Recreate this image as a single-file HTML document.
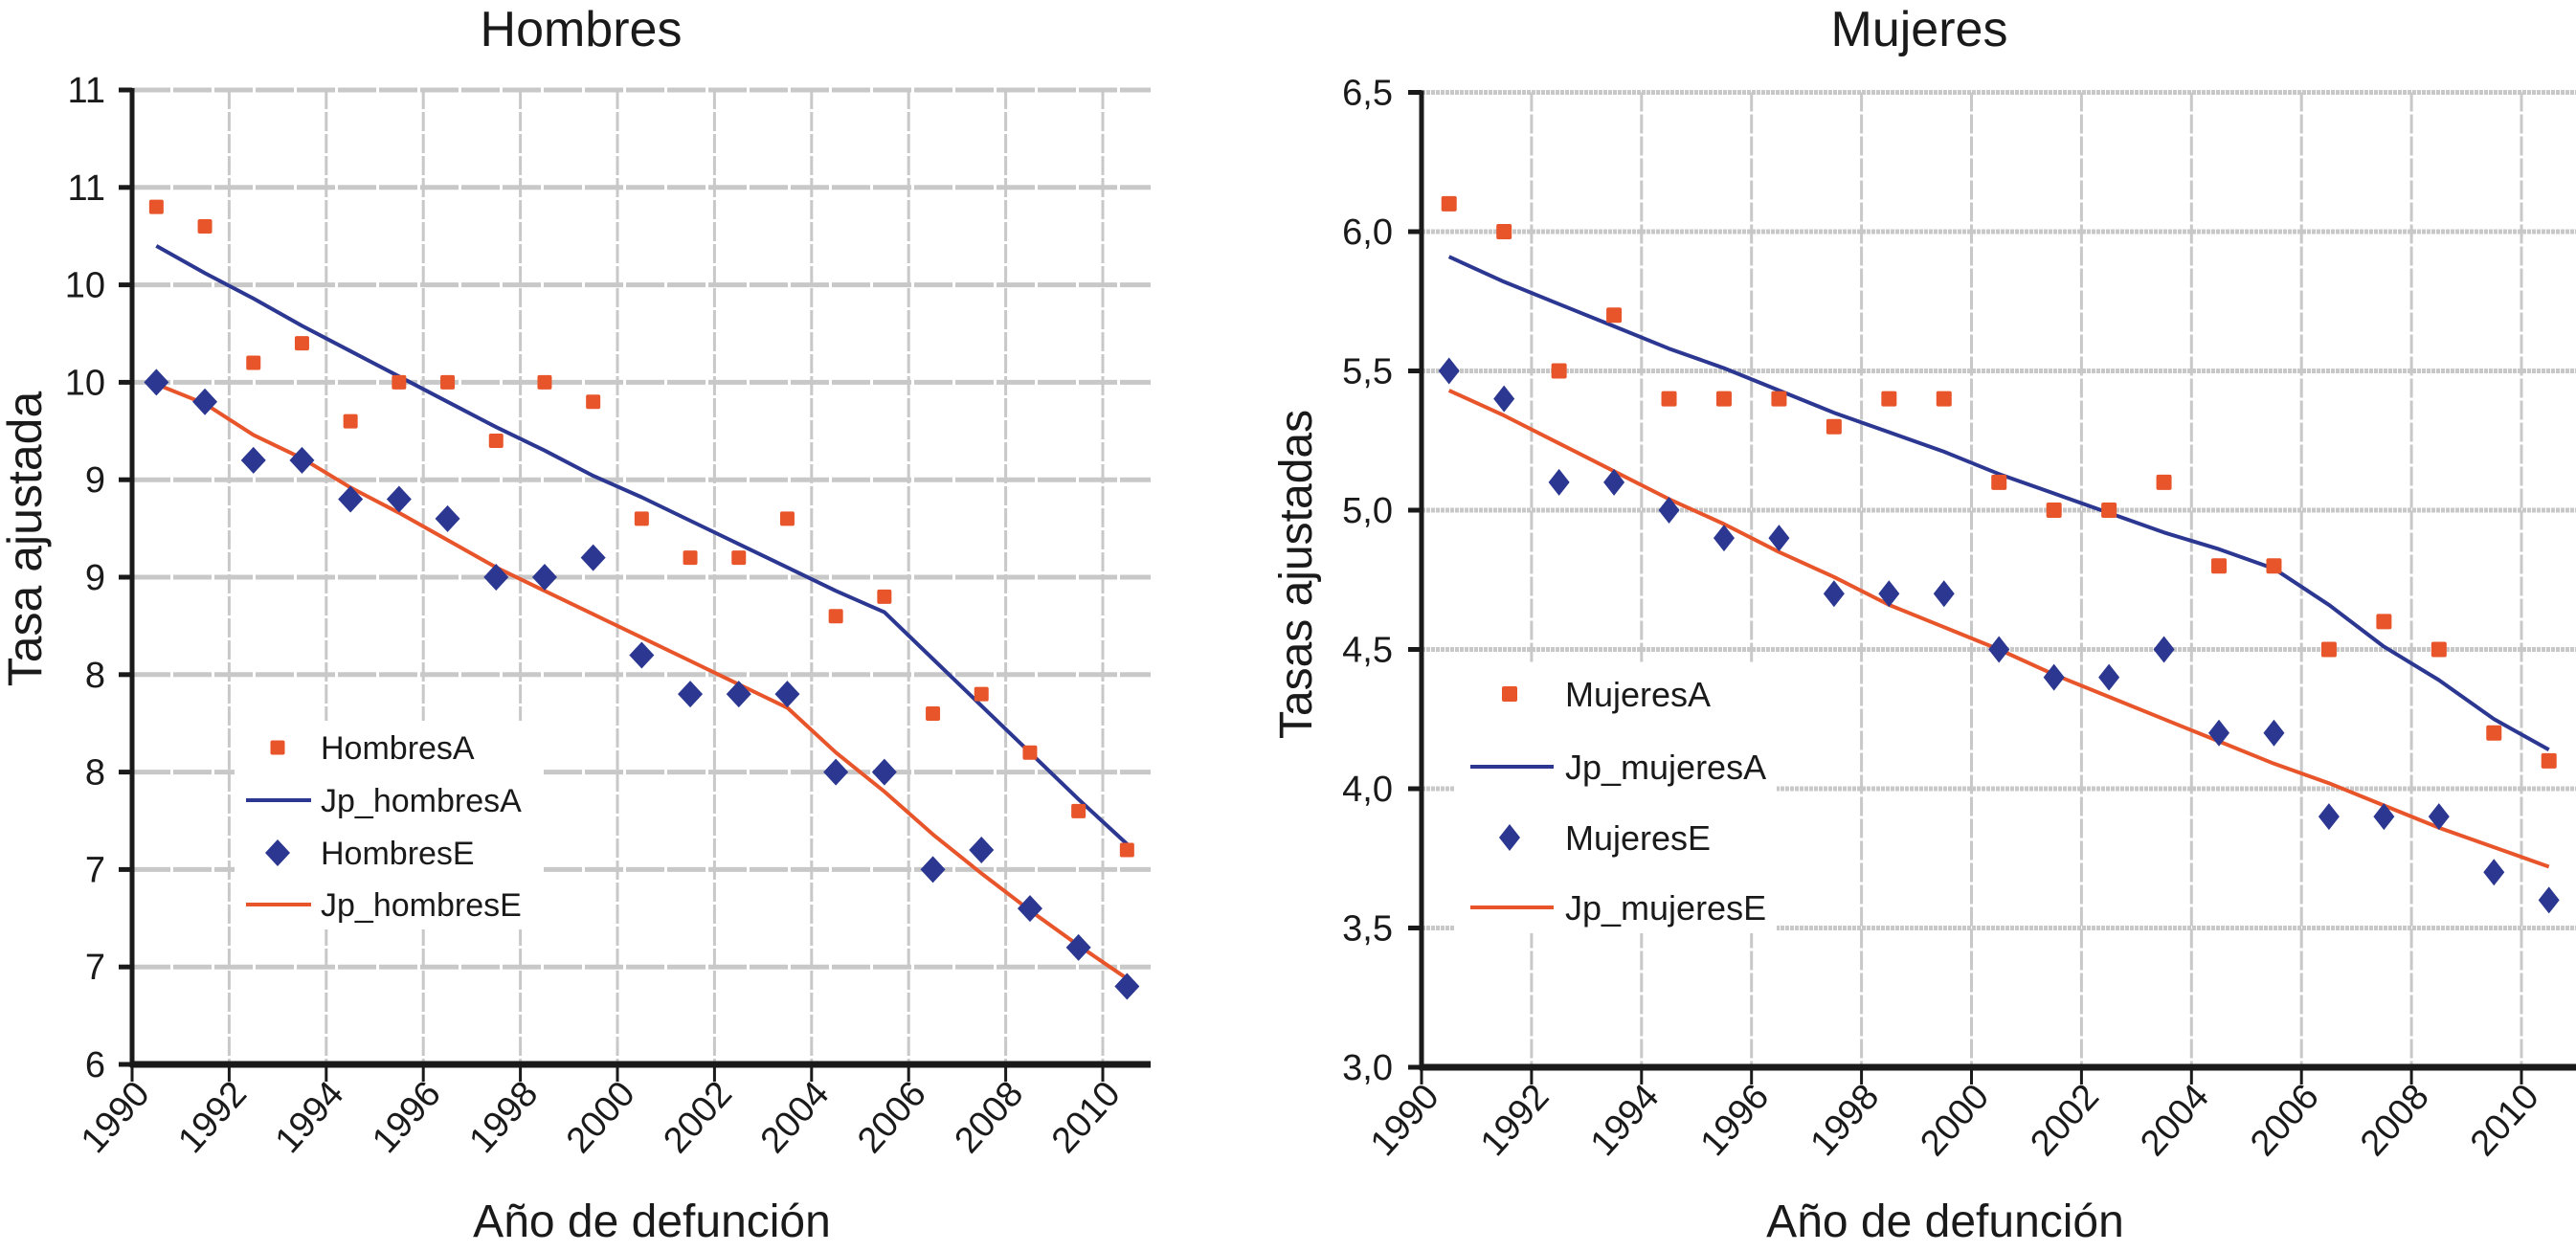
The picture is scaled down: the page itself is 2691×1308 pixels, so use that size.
<!DOCTYPE html>
<html><head><meta charset="utf-8">
<style>
html,body{margin:0;padding:0;background:#fff;}
svg{display:block;font-family:"Liberation Sans",sans-serif;}
</style></head>
<body>
<svg id="chart" width="2691" height="1308" viewBox="0 0 2691 1308"></svg>
<script>
const years = [1990.5,1991.5,1992.5,1993.5,1994.5,1995.5,1996.5,1997.5,1998.5,1999.5,2000.5,2001.5,2002.5,2003.5,2004.5,2005.5,2006.5,2007.5,2008.5,2009.5,2010.5];
const xTickYears = [1990,1992,1994,1996,1998,2000,2002,2004,2006,2008,2010];
const hombresA = [10.4,10.3,9.6,9.7,9.3,9.5,9.5,9.2,9.5,9.4,8.8,8.6,8.6,8.8,8.3,8.4,7.8,7.9,7.6,7.3,7.1];
const hombresE = [9.5,9.4,9.1,9.1,8.9,8.9,8.8,8.5,8.5,8.6,8.1,7.9,7.9,7.9,7.5,7.5,7.0,7.1,6.8,6.6,6.4];
const jpHombresA = [10.20,10.06,9.93,9.79,9.66,9.53,9.40,9.27,9.15,9.02,8.91,8.79,8.67,8.55,8.43,8.32,8.08,7.84,7.60,7.36,7.13];
const jpHombresE = [9.49,9.39,9.23,9.11,8.96,8.83,8.69,8.55,8.43,8.31,8.19,8.07,7.95,7.83,7.60,7.40,7.18,6.98,6.79,6.61,6.44];
const hombresYTicks = [6,6.5,7,7.5,8,8.5,9,9.5,10,10.5,11];
const hombresYLabels = ["6","7","7","8","8","9","9","10","10","11","11"];
const mujeresA = [6.1,6.0,5.5,5.7,5.4,5.4,5.4,5.3,5.4,5.4,5.1,5.0,5.0,5.1,4.8,4.8,4.5,4.6,4.5,4.2,4.1];
const mujeresE = [5.5,5.4,5.1,5.1,5.0,4.9,4.9,4.7,4.7,4.7,4.5,4.4,4.4,4.5,4.2,4.2,3.9,3.9,3.9,3.7,3.6];
const jpMujeresA = [5.91,5.82,5.74,5.66,5.58,5.51,5.43,5.35,5.28,5.21,5.13,5.06,4.99,4.92,4.86,4.79,4.66,4.51,4.39,4.25,4.14];
const jpMujeresE = [5.43,5.34,5.24,5.14,5.04,4.95,4.85,4.76,4.66,4.58,4.50,4.41,4.33,4.25,4.17,4.09,4.02,3.94,3.86,3.79,3.72];
const mujeresYTicks = [3.0,3.5,4.0,4.5,5.0,5.5,6.0,6.5];
const mujeresYLabels = ["3,0","3,5","4,0","4,5","5,0","5,5","6,0","6,5"];

const NS = "http://www.w3.org/2000/svg";
const svg = document.getElementById("chart");
const ORANGE = "#e8552b", NAVY = "#2b3791";
function mk(tag, attrs, parent){
  const e = document.createElementNS(NS, tag);
  for (const k in attrs) e.setAttribute(k, attrs[k]);
  (parent||svg).appendChild(e);
  return e;
}

function drawChart(cfg){
  const g = mk("g", {});
  
  
  const xs = yr => cfg.x0 + (yr - 1990) * cfg.pxPerYear;
  const ys = v => cfg.yBot - (v - cfg.vMin) * cfg.pxPerUnit;
  const xEnd = cfg.xEnd, yTop = ys(cfg.vMax);
  cfg.yTicks.forEach(v => {
    if (v === cfg.vMin) return;
    const l = mk("line", {x1:cfg.x0, x2:xEnd, y1:ys(v), y2:ys(v), stroke:"#c8c8c8", "stroke-width":5, "stroke-dasharray":cfg.hDash}, g);
    
    
  });
  xTickYears.forEach(yr => {
    if (yr === 1990) return;
    const l = mk("line", {x1:xs(yr), x2:xs(yr), y1:yTop, y2:cfg.yBot, stroke:"#c8c8c8", "stroke-width":3, "stroke-dasharray":"20 3"}, g);
    
    
  });
  [[cfg.jpA, NAVY, 'fit-line-a'], [cfg.jpE, ORANGE, 'fit-line-e']].forEach(([arr, col, nm]) => {
    const pts = arr.map((v,i) => xs(years[i]).toFixed(1) + "," + ys(v).toFixed(1)).join(" ");
    const p = mk("polyline", {points:pts, fill:"none", stroke:col, "stroke-width":4, "stroke-linejoin":"round"}, g);
    
    
  });
  cfg.A.forEach((v,i) => {
    const s = cfg.sq;
    const r = mk("rect", {x:xs(years[i]) - s/2, y:ys(v) - s/2, width:s, height:s, fill:ORANGE, rx:2}, g);
    
    
  });
  cfg.E.forEach((v,i) => {
    const cx = xs(years[i]), cy = ys(v), w = cfg.dw, h = cfg.dh;
    const d = mk("polygon", {points:`${cx},${cy-h/2} ${cx+w/2},${cy} ${cx},${cy+h/2} ${cx-w/2},${cy}`, fill:NAVY}, g);
    
    
  });
  const ya = mk("line", {x1:cfg.x0, x2:cfg.x0, y1:yTop - 2, y2:cfg.yBot + 3, stroke:"#1a1a1a", "stroke-width":5}, g);
  
  
  const xa = mk("line", {x1:cfg.x0 - 2, x2:xEnd, y1:cfg.yBot, y2:cfg.yBot, stroke:"#1a1a1a", "stroke-width":7}, g);
  
  
  cfg.yTicks.forEach((v,i) => {
    mk("line", {x1:cfg.x0 - 14, x2:cfg.x0, y1:ys(v), y2:ys(v), stroke:"#1a1a1a", "stroke-width":5}, g);
    const t = mk("text", {x:cfg.yLabelRight, y:ys(v) + 13, "text-anchor":"end", "font-size":cfg.tickFont, fill:"#1a1a1a"}, g);
    t.textContent = cfg.yLabels[i];
    
    
  });
  xTickYears.forEach(yr => {
    const x = xs(yr);
    mk("line", {x1:x, x2:x, y1:cfg.yBot, y2:cfg.yBot + 18, stroke:"#1a1a1a", "stroke-width":3}, g);
    const tx = x + 20, ty = cfg.yBot + 32;
    const t = mk("text", {x:tx, y:ty, "text-anchor":"end", "font-size":cfg.tickFont, fill:"#1a1a1a", transform:`rotate(-48 ${tx} ${ty})`}, g);
    t.textContent = String(yr);
    
    
  });
  const title = mk("text", {x:cfg.titleX, y:48, "text-anchor":"middle", "font-size":52, fill:"#1a1a1a"}, g);
  title.textContent = cfg.title;
  
  
  const xt = mk("text", {x:cfg.xTitleX, y:1292, "text-anchor":"middle", "font-size":48, fill:"#1a1a1a"}, g);
  xt.textContent = "Año de defunción";
  
  
  const yt = mk("text", {x:cfg.yTitleX, y:cfg.yTitleY, "text-anchor":"middle", "font-size":cfg.yTitleFont, fill:"#1a1a1a", transform:`rotate(-90 ${cfg.yTitleX} ${cfg.yTitleY})`}, g);
  yt.textContent = cfg.yTitle;
  
  
  const L = cfg.legend;
  const lb = mk("rect", {x:L.x, y:L.y, width:L.w, height:L.h, fill:"#fff"}, g);
  
  
  cfg.legendNames.forEach((nm, i) => {
    const cy = L.rows[i];
    if (i === 0) {
      mk("rect", {x:L.mx - cfg.sq/2, y:cy - cfg.sq/2, width:cfg.sq, height:cfg.sq, fill:ORANGE, rx:2}, g);
    } else if (i === 2) {
      mk("polygon", {points:`${L.mx},${cy-cfg.dh/2} ${L.mx+cfg.dw/2},${cy} ${L.mx},${cy+cfg.dh/2} ${L.mx-cfg.dw/2},${cy}`, fill:NAVY}, g);
    } else {
      mk("line", {x1:L.lx1, x2:L.lx2, y1:cy, y2:cy, stroke:i===1?NAVY:ORANGE, "stroke-width":4}, g);
    }
    const t = mk("text", {x:L.tx, y:cy + L.fs*0.36, "font-size":L.fs, fill:"#1a1a1a"}, g);
    t.textContent = nm;
    
    
  });
}

drawChart({
  name:"hombres-chart", x0:138, xEnd:1202, pxPerYear:50.7, yBot:1112, vMin:6, vMax:11, pxPerUnit:203.6,
  yTicks:hombresYTicks, yLabels:hombresYLabels, hDash:"40 3", yLabelRight:110,
  A:hombresA, E:hombresE, jpA:jpHombresA, jpE:jpHombresE,
  sq:15, dw:26, dh:28, tickFont:38,
  title:"Hombres", titleX:607, xTitleX:681, yTitle:"Tasa ajustada", yTitleFont:50, yTitleX:43, yTitleY:563,
  legend:{x:245, y:753, w:320, h:218, mx:290, lx1:257, lx2:325, tx:335, fs:34, rows:[781,836,891,945]},
  legendNames:["HombresA","Jp_hombresA","HombresE","Jp_hombresE"]
});
drawChart({
  name:"mujeres-chart", x0:1485, xEnd:2691, pxPerYear:57.45, yBot:1115, vMin:3, vMax:6.5, pxPerUnit:291,
  yTicks:mujeresYTicks, yLabels:mujeresYLabels, hDash:"4 1", yLabelRight:1455,
  A:mujeresA, E:mujeresE, jpA:jpMujeresA, jpE:jpMujeresE,
  sq:16, dw:22, dh:28, tickFont:38,
  title:"Mujeres", titleX:2005, xTitleX:2032, yTitle:"Tasas ajustadas", yTitleFont:48, yTitleX:1370, yTitleY:600,
  legend:{x:1519, y:694, w:337, h:281, mx:1577, lx1:1536, lx2:1623, tx:1635, fs:36, rows:[725,801,875,948]},
  legendNames:["MujeresA","Jp_mujeresA","MujeresE","Jp_mujeresE"]
});
</script>
</body></html>
